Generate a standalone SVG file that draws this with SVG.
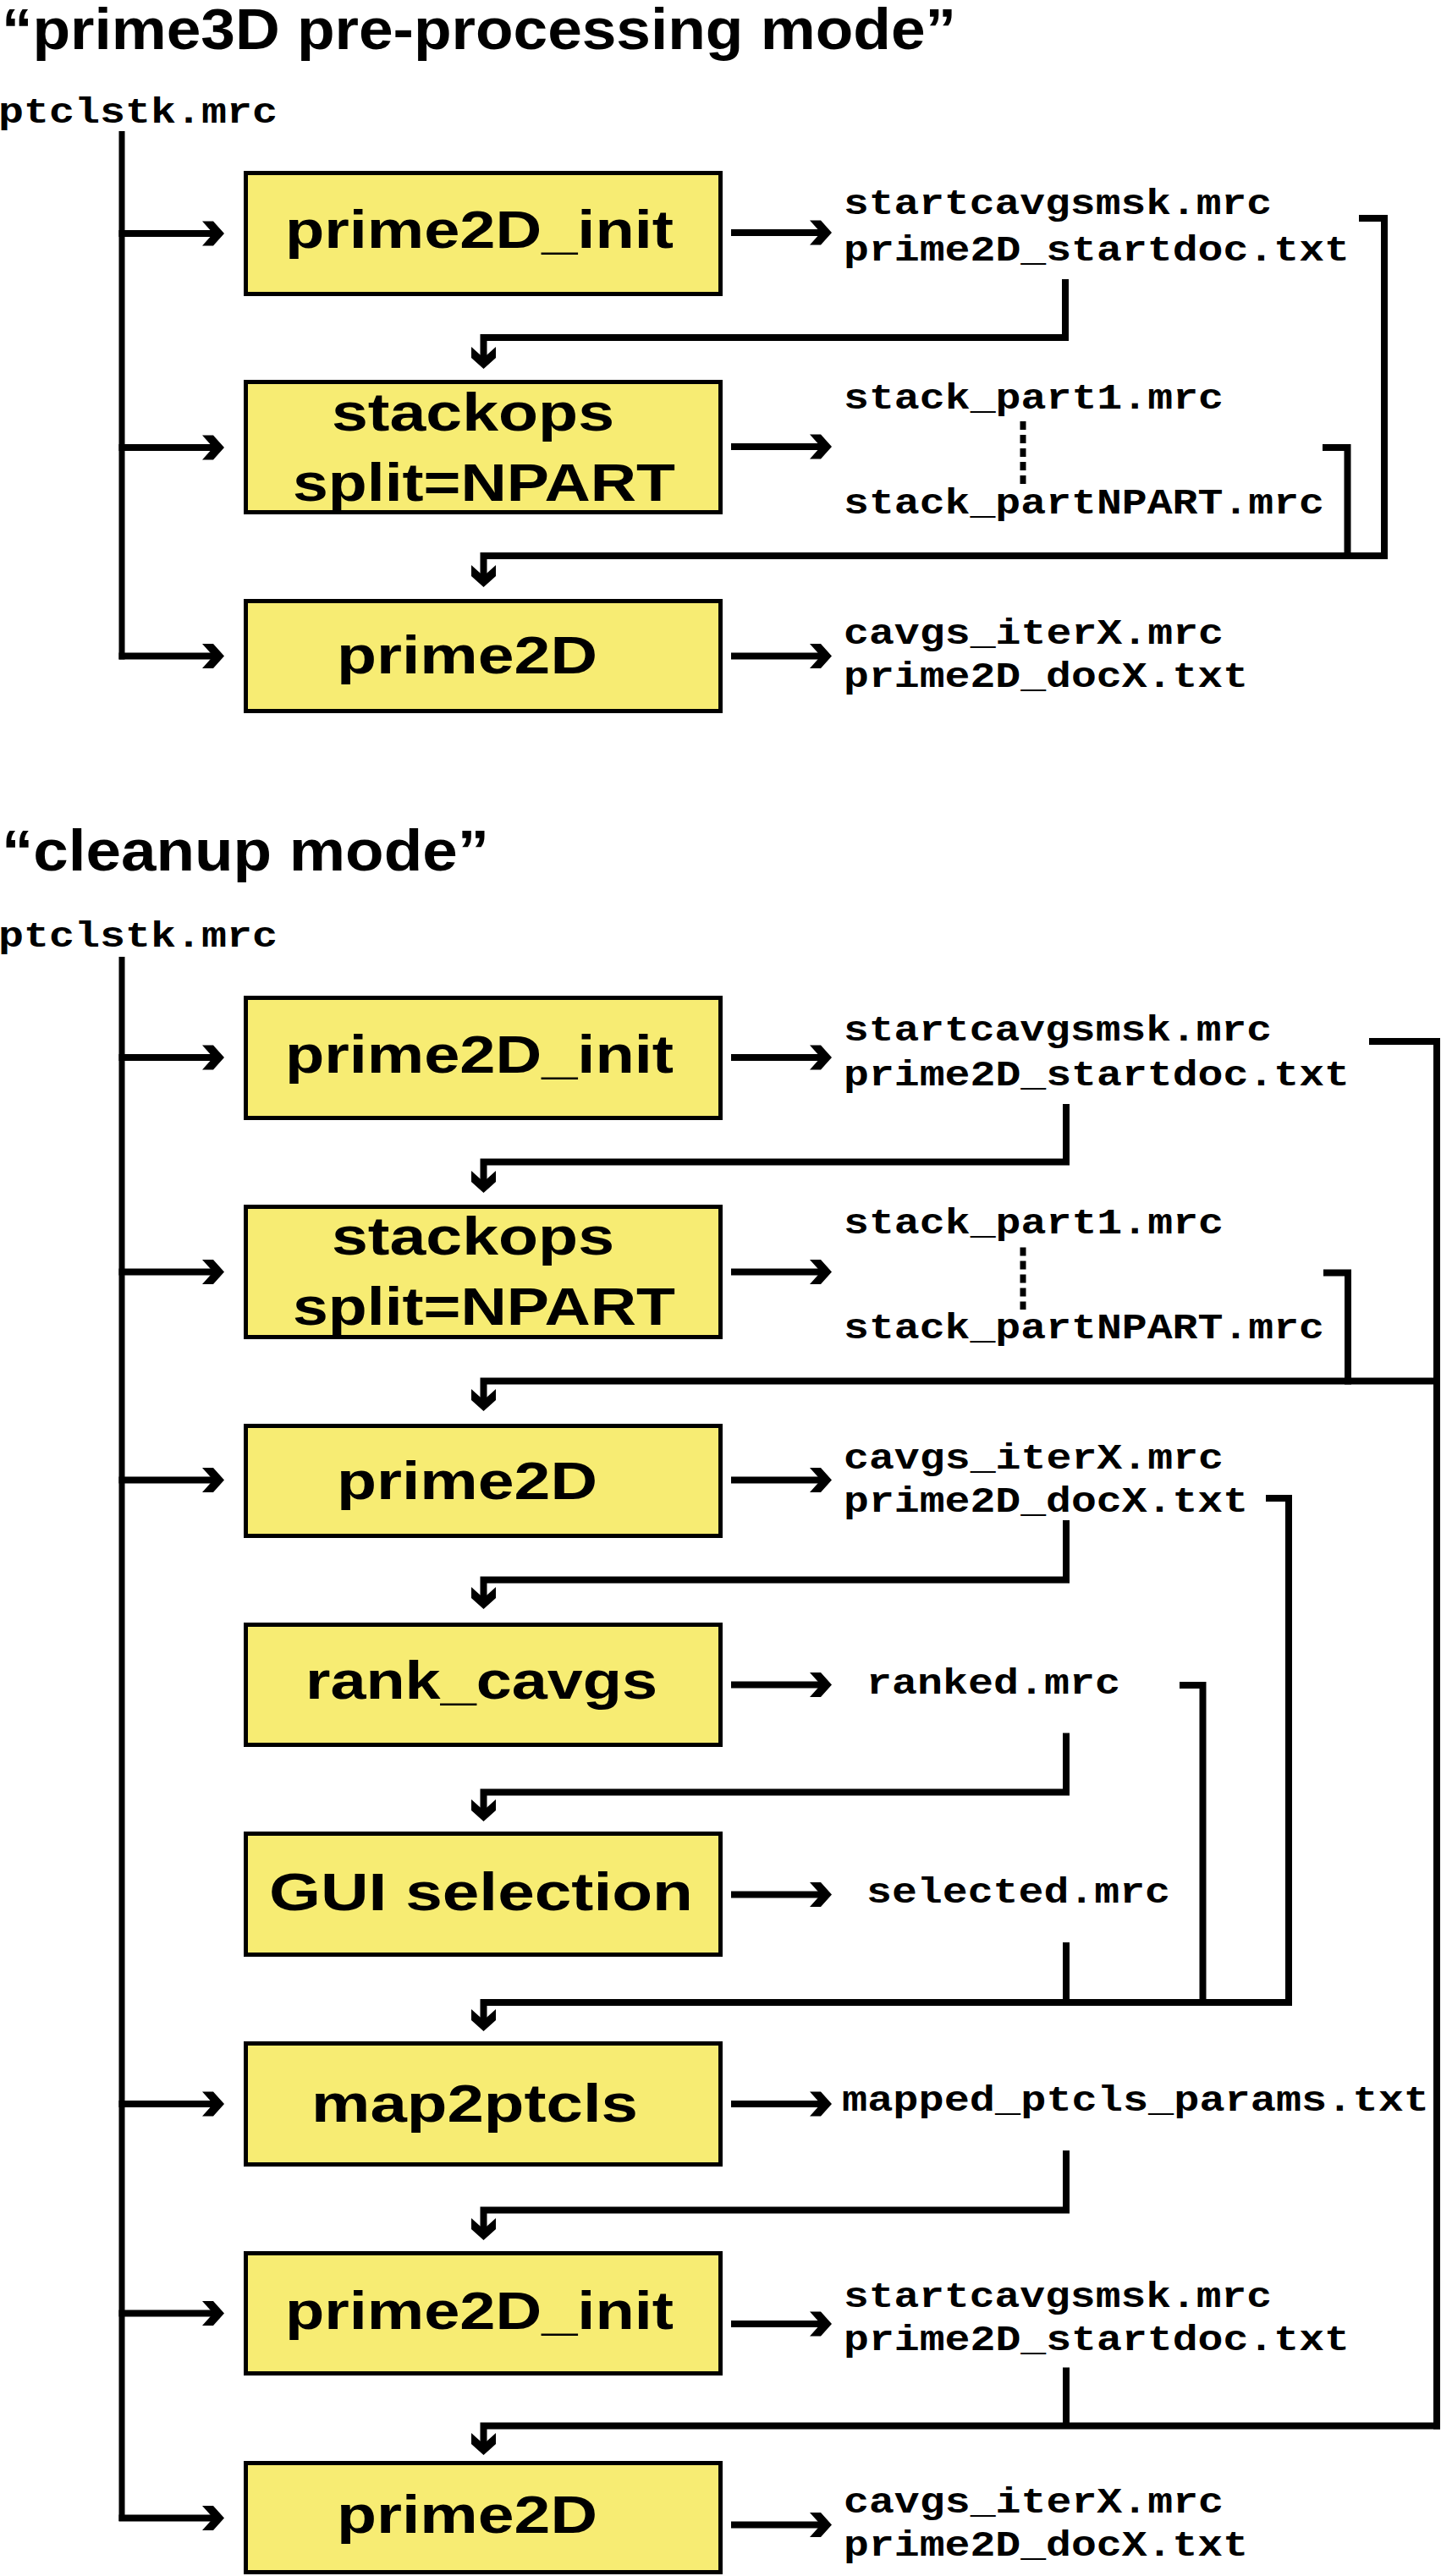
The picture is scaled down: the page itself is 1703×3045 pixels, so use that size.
<svg xmlns="http://www.w3.org/2000/svg" xmlns:xlink="http://www.w3.org/1999/xlink" width="1703" height="3045" viewBox="0 0 1703 3045">
<style>
.box{fill:#F7EC73;stroke:#000;stroke-width:5}
.lbl{font-family:"Liberation Sans",Arial,Helvetica,sans-serif;font-weight:bold;font-size:63px;fill:#000}
.ttl{font-family:"Liberation Sans",Arial,Helvetica,sans-serif;font-weight:bold;font-size:68px;fill:#000}
.mono{font-family:"Liberation Mono","Courier New",monospace;font-weight:bold;font-size:42px;fill:#000}
.ln{fill:none;stroke:#000;stroke-width:8;stroke-linejoin:miter;stroke-linecap:butt}
.trunk{fill:none;stroke:#000;stroke-width:7}
.dot{fill:none;stroke:#000;stroke-width:7;stroke-dasharray:10 6}
</style>
<defs>
<path id="ahR" d="M-26,-14.5 L-13,-14.5 L0,0 L-13,14.5 L-26,14.5 L-13,0 Z" fill="#000"/>
<path id="ahD" d="M-14.5,-26 L-14.5,-13 L0,0 L14.5,-13 L14.5,-26 L0,-13 Z" fill="#000"/>
</defs>

<!-- titles and inputs -->
<g id="title1"><text class="ttl" x="2" y="58" textLength="1128" lengthAdjust="spacingAndGlyphs">“prime3D pre-processing mode”</text></g>
<g id="input1"><text class="mono" x="-2" y="145" textLength="330" lengthAdjust="spacingAndGlyphs">ptclstk.mrc</text></g>
<g id="title2"><text class="ttl" x="2" y="1029" textLength="576" lengthAdjust="spacingAndGlyphs">“cleanup mode”</text></g>
<g id="input2"><text class="mono" x="-2" y="1119" textLength="330" lengthAdjust="spacingAndGlyphs">ptclstk.mrc</text></g>

<!-- section 1 nodes -->
<g id="s1_prime2D_init">
<rect class="box" x="290.5" y="204.5" width="561" height="143"/>
<text class="lbl" x="337" y="293" textLength="459" lengthAdjust="spacingAndGlyphs">prime2D_init</text>
</g>
<g id="s1_stackops">
<rect class="box" x="290.5" y="451.5" width="561" height="154"/>
<text class="lbl" x="392" y="509" textLength="334" lengthAdjust="spacingAndGlyphs">stackops</text>
<text class="lbl" x="346" y="592" textLength="452" lengthAdjust="spacingAndGlyphs">split=NPART</text>
</g>
<g id="s1_prime2D">
<rect class="box" x="290.5" y="710.5" width="561" height="130"/>
<text class="lbl" x="398" y="796" textLength="308" lengthAdjust="spacingAndGlyphs">prime2D</text>
</g>
<g id="s1_out1">
<text class="mono" x="997" y="253" textLength="506" lengthAdjust="spacingAndGlyphs">startcavgsmsk.mrc</text>
<text class="mono" x="997" y="308" textLength="598" lengthAdjust="spacingAndGlyphs">prime2D_startdoc.txt</text>
</g>
<g id="s1_out2">
<text class="mono" x="997" y="483" textLength="449" lengthAdjust="spacingAndGlyphs">stack_part1.mrc</text>
<text class="mono" x="997" y="607" textLength="568" lengthAdjust="spacingAndGlyphs">stack_partNPART.mrc</text>
</g>
<g id="s1_out3">
<text class="mono" x="997" y="761" textLength="449" lengthAdjust="spacingAndGlyphs">cavgs_iterX.mrc</text>
<text class="mono" x="997" y="812" textLength="478" lengthAdjust="spacingAndGlyphs">prime2D_docX.txt</text>
</g>

<!-- section 2 nodes -->
<g id="s2_prime2D_init_a">
<rect class="box" x="290.5" y="1179.5" width="561" height="142"/>
<text class="lbl" x="337" y="1268" textLength="459" lengthAdjust="spacingAndGlyphs">prime2D_init</text>
</g>
<g id="s2_stackops">
<rect class="box" x="290.5" y="1426.5" width="561" height="154"/>
<text class="lbl" x="392" y="1483" textLength="334" lengthAdjust="spacingAndGlyphs">stackops</text>
<text class="lbl" x="346" y="1566" textLength="452" lengthAdjust="spacingAndGlyphs">split=NPART</text>
</g>
<g id="s2_prime2D_a">
<rect class="box" x="290.5" y="1685.5" width="561" height="130"/>
<text class="lbl" x="398" y="1772" textLength="308" lengthAdjust="spacingAndGlyphs">prime2D</text>
</g>
<g id="s2_rank_cavgs">
<rect class="box" x="290.5" y="1920.5" width="561" height="142"/>
<text class="lbl" x="361" y="2008" textLength="416" lengthAdjust="spacingAndGlyphs">rank_cavgs</text>
</g>
<g id="s2_gui_selection">
<rect class="box" x="290.5" y="2167.5" width="561" height="143"/>
<text class="lbl" x="318" y="2258" textLength="501" lengthAdjust="spacingAndGlyphs">GUI selection</text>
</g>
<g id="s2_map2ptcls">
<rect class="box" x="290.5" y="2415.5" width="561" height="143"/>
<text class="lbl" x="368" y="2508" textLength="386" lengthAdjust="spacingAndGlyphs">map2ptcls</text>
</g>
<g id="s2_prime2D_init_b">
<rect class="box" x="290.5" y="2663.5" width="561" height="142"/>
<text class="lbl" x="337" y="2753" textLength="459" lengthAdjust="spacingAndGlyphs">prime2D_init</text>
</g>
<g id="s2_prime2D_b">
<rect class="box" x="290.5" y="2911.5" width="561" height="129"/>
<text class="lbl" x="398" y="2994" textLength="308" lengthAdjust="spacingAndGlyphs">prime2D</text>
</g>
<g id="s2_out1">
<text class="mono" x="997" y="1230" textLength="506" lengthAdjust="spacingAndGlyphs">startcavgsmsk.mrc</text>
<text class="mono" x="997" y="1283" textLength="598" lengthAdjust="spacingAndGlyphs">prime2D_startdoc.txt</text>
</g>
<g id="s2_out2">
<text class="mono" x="997" y="1458" textLength="449" lengthAdjust="spacingAndGlyphs">stack_part1.mrc</text>
<text class="mono" x="997" y="1582" textLength="568" lengthAdjust="spacingAndGlyphs">stack_partNPART.mrc</text>
</g>
<g id="s2_out3">
<text class="mono" x="997" y="1736" textLength="449" lengthAdjust="spacingAndGlyphs">cavgs_iterX.mrc</text>
<text class="mono" x="997" y="1787" textLength="478" lengthAdjust="spacingAndGlyphs">prime2D_docX.txt</text>
</g>
<g id="s2_out4"><text class="mono" x="1024" y="2002" textLength="300" lengthAdjust="spacingAndGlyphs">ranked.mrc</text></g>
<g id="s2_out5"><text class="mono" x="1024" y="2249" textLength="359" lengthAdjust="spacingAndGlyphs">selected.mrc</text></g>
<g id="s2_out6"><text class="mono" x="995" y="2495" textLength="694" lengthAdjust="spacingAndGlyphs">mapped_ptcls_params.txt</text></g>
<g id="s2_out7">
<text class="mono" x="997" y="2727" textLength="506" lengthAdjust="spacingAndGlyphs">startcavgsmsk.mrc</text>
<text class="mono" x="997" y="2778" textLength="598" lengthAdjust="spacingAndGlyphs">prime2D_startdoc.txt</text>
</g>
<g id="s2_out8">
<text class="mono" x="997" y="2970" textLength="449" lengthAdjust="spacingAndGlyphs">cavgs_iterX.mrc</text>
<text class="mono" x="997" y="3021" textLength="478" lengthAdjust="spacingAndGlyphs">prime2D_docX.txt</text>
</g>

<!-- connectors -->
<g id="connectors">
<!-- section 1 -->
<path class="trunk" d="M144,155 V779.5"/>
<path class="ln" d="M140.5,276 H254 M140.5,529 H254 M140.5,775.5 H254"/>
<use xlink:href="#ahR" href="#ahR" transform="translate(265,276)"/>
<use xlink:href="#ahR" href="#ahR" transform="translate(265,529)"/>
<use xlink:href="#ahR" href="#ahR" transform="translate(265,775.5)"/>
<path class="ln" d="M864,275 H972 M864,528 H972 M864,775.5 H972"/>
<use xlink:href="#ahR" href="#ahR" transform="translate(983,275)"/>
<use xlink:href="#ahR" href="#ahR" transform="translate(983,528)"/>
<use xlink:href="#ahR" href="#ahR" transform="translate(983,775.5)"/>
<path class="ln" d="M1259,330 V399 H571.5 V424"/>
<use xlink:href="#ahD" href="#ahD" transform="translate(571.5,436)"/>
<path class="ln" d="M1606,258 H1636 V657 H571.5 V682"/>
<use xlink:href="#ahD" href="#ahD" transform="translate(571.5,694)"/>
<path class="ln" d="M1563,529 H1592.5 V661"/>
<path class="dot" d="M1209,498 V572"/>

<!-- section 2 -->
<path class="trunk" d="M144,1131 V2980"/>
<path class="ln" d="M140.5,1250 H254 M140.5,1503.5 H254 M140.5,1749.5 H254 M140.5,2487 H254 M140.5,2734.5 H254 M140.5,2976.5 H254"/>
<use xlink:href="#ahR" href="#ahR" transform="translate(265,1250)"/>
<use xlink:href="#ahR" href="#ahR" transform="translate(265,1503.5)"/>
<use xlink:href="#ahR" href="#ahR" transform="translate(265,1749.5)"/>
<use xlink:href="#ahR" href="#ahR" transform="translate(265,2487)"/>
<use xlink:href="#ahR" href="#ahR" transform="translate(265,2734.5)"/>
<use xlink:href="#ahR" href="#ahR" transform="translate(265,2976.5)"/>
<path class="ln" d="M864,1250 H972 M864,1503.5 H972 M864,1749.5 H972 M864,1991.5 H972 M864,2239.5 H972 M864,2487 H972 M864,2747 H972 M864,2984.5 H972"/>
<use xlink:href="#ahR" href="#ahR" transform="translate(983,1250)"/>
<use xlink:href="#ahR" href="#ahR" transform="translate(983,1503.5)"/>
<use xlink:href="#ahR" href="#ahR" transform="translate(983,1749.5)"/>
<use xlink:href="#ahR" href="#ahR" transform="translate(983,1991.5)"/>
<use xlink:href="#ahR" href="#ahR" transform="translate(983,2239.5)"/>
<use xlink:href="#ahR" href="#ahR" transform="translate(983,2487)"/>
<use xlink:href="#ahR" href="#ahR" transform="translate(983,2747)"/>
<use xlink:href="#ahR" href="#ahR" transform="translate(983,2984.5)"/>
<path class="ln" d="M1260,1305 V1373.5 H571.5 V1398"/>
<use xlink:href="#ahD" href="#ahD" transform="translate(571.5,1410)"/>
<path class="ln" d="M1618,1231 H1698 V2871.5"/>
<path class="ln" d="M1564,1504.5 H1593 V1636.5"/>
<path class="dot" d="M1209,1474.5 V1548"/>
<path class="ln" d="M1702,1632.5 H571.5 V1656"/>
<use xlink:href="#ahD" href="#ahD" transform="translate(571.5,1668)"/>
<path class="ln" d="M1260,1797 V1867.5 H571.5 V1890"/>
<use xlink:href="#ahD" href="#ahD" transform="translate(571.5,1902)"/>
<path class="ln" d="M1496,1771 H1523 V2371"/>
<path class="ln" d="M1394,1992 H1421.5 V2371"/>
<path class="ln" d="M1260,2048.5 V2118.5 H571.5 V2141"/>
<use xlink:href="#ahD" href="#ahD" transform="translate(571.5,2153)"/>
<path class="ln" d="M1260,2296 V2367"/>
<path class="ln" d="M1527,2367 H571.5 V2389"/>
<use xlink:href="#ahD" href="#ahD" transform="translate(571.5,2401)"/>
<path class="ln" d="M1260,2542 V2612.5 H571.5 V2636"/>
<use xlink:href="#ahD" href="#ahD" transform="translate(571.5,2648)"/>
<path class="ln" d="M1260,2798.5 V2867.5"/>
<path class="ln" d="M1702,2867.5 H571.5 V2890"/>
<use xlink:href="#ahD" href="#ahD" transform="translate(571.5,2902)"/>
</g>
</svg>
